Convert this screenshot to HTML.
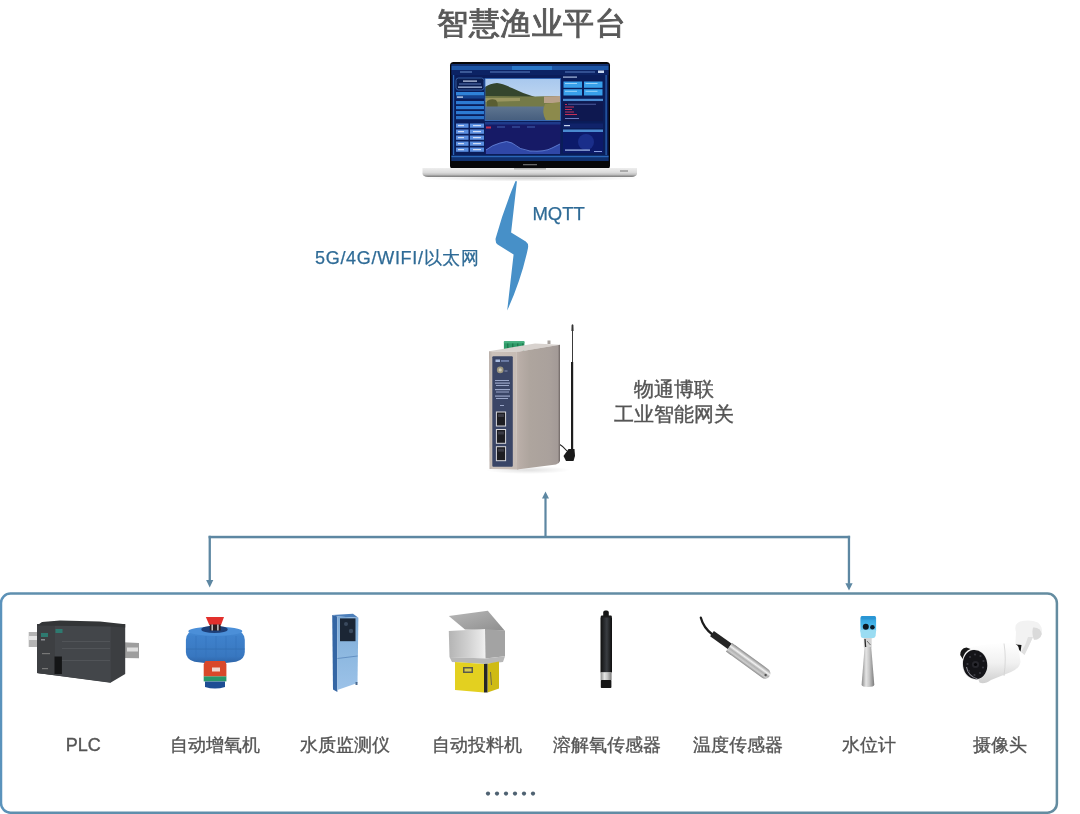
<!DOCTYPE html>
<html><head><meta charset="utf-8">
<style>
html,body{margin:0;padding:0;background:#fff;}
body{width:1080px;height:814px;position:relative;overflow:hidden;font-family:"Liberation Sans",sans-serif;}
.t{position:absolute;white-space:nowrap;line-height:1;transform:translateZ(0);}
.lab{position:absolute;top:736px;width:140px;margin-left:-70px;text-align:center;font-size:18px;line-height:1;color:#555;white-space:nowrap;-webkit-text-stroke:0.35px #555;transform:translateZ(0);}
svg{position:absolute;left:0;top:0;}
</style></head><body>
<svg width="1080" height="814" viewBox="0 0 1080 814">
  <!-- LAPTOP_START -->
  <defs>
    <linearGradient id="lbase" x1="0" y1="0" x2="0" y2="1">
      <stop offset="0" stop-color="#eeeeee"/><stop offset="0.5" stop-color="#dadada"/>
      <stop offset="0.72" stop-color="#c2c2c2"/><stop offset="0.86" stop-color="#9a9a9a"/><stop offset="1" stop-color="#7a7a7a"/>
    </linearGradient>
    <linearGradient id="lsky" x1="0" y1="0" x2="0" y2="1">
      <stop offset="0" stop-color="#a8c8ee"/><stop offset="1" stop-color="#d6e4f2"/>
    </linearGradient>
    <linearGradient id="lwater" x1="0" y1="0" x2="0" y2="1">
      <stop offset="0" stop-color="#5e7590"/><stop offset="1" stop-color="#465e7e"/>
    </linearGradient>
    <radialGradient id="lshadow" cx="0.5" cy="0.5" r="0.5">
      <stop offset="0" stop-color="#000" stop-opacity="0.18"/><stop offset="1" stop-color="#000" stop-opacity="0"/>
    </radialGradient>
  </defs>
  <ellipse cx="530" cy="178" rx="110" ry="3.5" fill="url(#lshadow)"/>
  <rect x="450" y="62" width="160" height="107" rx="3.5" fill="#070709"/>
  <rect x="451.5" y="64" width="157" height="97" fill="#0a1d5a"/>
  <!-- title bars -->
  <rect x="451.5" y="64" width="157" height="2" fill="#103070"/>
  <rect x="451.5" y="66" width="157" height="4" fill="#1c55a5"/>
  <rect x="512" y="66" width="40" height="4.5" fill="#2a78c8"/>
  <rect x="451.5" y="70" width="157" height="5" fill="#0c2364"/>
  <rect x="460" y="71.5" width="12" height="1" fill="#6d8fc8"/>
  <rect x="490" y="71.5" width="40" height="1" fill="#5a7fc0"/>
  <rect x="565" y="71.5" width="30" height="1" fill="#5a7fc0"/>
  <rect x="598" y="70.5" width="6" height="2.5" fill="#c8d8f0"/>
  <!-- frame lines -->
  <rect x="453" y="75" width="1.2" height="80" fill="#2a68b8"/>
  <rect x="605.5" y="75" width="1.2" height="80" fill="#2a68b8"/>
  <!-- left column -->
  <rect x="456" y="78" width="28" height="12" rx="2.5" fill="#0a1d50" stroke="#3a6ab0" stroke-width="0.8"/>
  <rect x="463" y="80.5" width="14" height="1.2" fill="#c8d4ec"/>
  <rect x="459" y="83.5" width="22" height="1" fill="#5a7ab8"/>
  <rect x="458" y="86.5" width="24" height="1.3" fill="#a8bce0"/>
  <rect x="456" y="92" width="28" height="3.6" fill="#2f82d8"/>
  <rect x="456" y="95.6" width="28" height="3" fill="#15418e"/>
  <rect x="457" y="96.5" width="6" height="1.2" fill="#d8e4f4"/>
  <rect x="456" y="101" width="28" height="3.2" fill="#2c7ad2"/>
  <rect x="456" y="106" width="28" height="3.2" fill="#2c7ad2"/>
  <rect x="456" y="111" width="28" height="3.2" fill="#2c7ad2"/>
  <rect x="456" y="116" width="28" height="3.2" fill="#2a72c8"/>
  <g fill="#5a8ee0">
    <rect x="456" y="123.5" width="12.5" height="4.3"/><rect x="470" y="123.5" width="14" height="4.3"/>
    <rect x="456" y="129.5" width="12.5" height="4.3"/><rect x="470" y="129.5" width="14" height="4.3"/>
    <rect x="456" y="135.5" width="12.5" height="4.3"/><rect x="470" y="135.5" width="14" height="4.3"/>
    <rect x="456" y="141.5" width="12.5" height="4.3"/><rect x="470" y="141.5" width="14" height="4.3"/>
    <rect x="456" y="147.5" width="12.5" height="4.3"/><rect x="470" y="147.5" width="14" height="4.3"/>
  </g>
  <g fill="#d0dcf4">
    <rect x="458" y="125" width="6" height="1.2"/><rect x="473" y="125" width="8" height="1.2"/>
    <rect x="458" y="131" width="6" height="1.2"/><rect x="473" y="131" width="8" height="1.2"/>
    <rect x="458" y="137" width="6" height="1.2"/><rect x="473" y="137" width="8" height="1.2"/>
    <rect x="458" y="143" width="6" height="1.2"/><rect x="473" y="143" width="8" height="1.2"/>
    <rect x="458" y="149" width="6" height="1.2"/><rect x="473" y="149" width="8" height="1.2"/>
  </g>
  <!-- photo -->
  <rect x="485" y="78.5" width="75.5" height="42" fill="url(#lsky)"/>
  <path d="M485,87 Q490,83.5 497,83 Q503,83.5 512,88 Q524,94 535,97 L560,96.5 L560,104 L485,104 Z" fill="#34452d"/>
  <path d="M485,96 L535,96.5 L560,96 L560,107 L485,107 Z" fill="#747a48"/>
  <path d="M485,98 L520,98 L520,101 L485,102 Z" fill="#9a9660"/>
  <path d="M544,96.5 L560,96 L560,103 L544,103 Z" fill="#b8a088"/>
  <path d="M487,101 Q491,98 496,100 Q499,104 497,109 L487,109 Z" fill="#5a5e32"/>
  <rect x="485" y="106.5" width="75.5" height="14" fill="url(#lwater)"/>
  <path d="M545,104 L560,102 L560,120.5 L546,120.5 Q541,112 545,104 Z" fill="#8c8a4c"/>
  <rect x="485" y="78.5" width="75.5" height="42" fill="none" stroke="#2f66b8" stroke-width="0.8"/>
  <!-- chart area -->
  <rect x="485" y="122" width="75.5" height="32" fill="#161a66"/>
  <rect x="485" y="122" width="75.5" height="2.5" fill="#1e3a8a"/>
  <rect x="486" y="126.5" width="5" height="2" fill="#c03050"/>
  <rect x="497" y="126.5" width="8" height="1" fill="#4060b0"/>
  <rect x="512" y="126.5" width="8" height="1" fill="#4060b0"/>
  <rect x="527" y="126.5" width="8" height="1" fill="#4060b0"/>
  <path d="M486,150 Q492,145 500,143 Q507,140 512,143 Q520,150 530,151 Q545,152 552,148 L560,144 L560,154 L486,154 Z" fill="#3048a8"/>
  <path d="M486,150 Q492,145 500,143 Q507,140 512,143 Q520,150 530,151 Q545,152 552,148 L560,144" fill="none" stroke="#6a8ae0" stroke-width="0.8"/>
  <!-- right column -->
  <rect x="563" y="76.5" width="14" height="1.2" fill="#a8bce0"/>
  <g fill="#38a0ea">
    <rect x="563.5" y="81.5" width="18.5" height="6.3"/><rect x="584" y="81.5" width="18.5" height="6.3"/>
    <rect x="563.5" y="89.2" width="18.5" height="6.3"/><rect x="584" y="89.2" width="18.5" height="6.3"/>
  </g>
  <g fill="#9ad4f8">
    <rect x="565" y="83" width="12" height="1"/><rect x="585.5" y="83" width="12" height="1"/>
    <rect x="565" y="90.8" width="12" height="1"/><rect x="585.5" y="90.8" width="12" height="1"/>
  </g>
  <rect x="563" y="98.8" width="40" height="2.4" fill="#4a8ad0"/>
  <rect x="563" y="101.2" width="40" height="20" fill="#0e1850"/>
  <g fill="#c03058">
    <rect x="565" y="104" width="2" height="1"/><rect x="565" y="106.5" width="9" height="1"/>
    <rect x="565" y="109" width="7" height="1"/><rect x="565" y="111.5" width="9" height="1"/>
    <rect x="565" y="114" width="12" height="1"/>
  </g>
  <rect x="568" y="103.8" width="28" height="0.8" fill="#5a6ab0"/>
  <rect x="565" y="118" width="14" height="1" fill="#6a7ac0"/>
  <rect x="563" y="123.5" width="40" height="4.5" fill="#10236a"/>
  <rect x="564" y="125" width="6" height="1.2" fill="#c8d4ec"/>
  <rect x="563" y="129.5" width="40" height="2.6" fill="#4a8ad0"/>
  <rect x="563" y="132" width="40" height="21" fill="#0c1a6a"/>
  <ellipse cx="586" cy="142" rx="8" ry="8" fill="#1a2e8a"/>
  <rect x="565" y="149.5" width="25" height="1.2" fill="#a8c0f0"/>
  <rect x="594" y="151" width="8" height="1" fill="#8aa0e0"/>
  <!-- bottom strip -->
  <rect x="451.5" y="155" width="157" height="6" fill="#10306e"/>
  <rect x="451.5" y="156" width="157" height="1.2" fill="#2a66b8"/>
  <!-- bezel logo -->
  <rect x="523" y="164" width="14" height="1.3" fill="#666"/>
  <!-- base -->
  <path d="M422.5,168 L637,168 L637,174 Q636,176.5 632,177 L428,177 Q423,176.5 422.5,174 Z" fill="url(#lbase)"/>
  <rect x="514" y="168" width="32" height="1.6" fill="#b8b8b8"/>
  <rect x="620" y="170.5" width="8" height="1" fill="#777"/>
  <!-- LAPTOP_END -->

  <!-- bolt -->
  <path d="M515.4,181.2 Q516.2,180.4 516.9,181.6 L511.1,232.4 L525.8,241.6 Q528.8,243.8 528,248 Q521.4,279.3 507.2,310.6 L513.6,254.6 L497.6,244.6 Q495.2,242.8 495.6,238.5 Q503.55,209.75 515.4,181.2 Z" fill="#4790c8"/>

  <!-- GATEWAY_START -->
  <defs>
    <linearGradient id="gside" x1="0" y1="0" x2="1" y2="0">
      <stop offset="0" stop-color="#bcb0aa"/><stop offset="0.3" stop-color="#aea59e"/><stop offset="0.75" stop-color="#aaa19c"/><stop offset="0.95" stop-color="#a39a97"/><stop offset="1" stop-color="#6e6664"/>
    </linearGradient>
    <linearGradient id="gfront" x1="0" y1="0" x2="1" y2="0">
      <stop offset="0" stop-color="#b8aea8"/><stop offset="0.12" stop-color="#cbc1ba"/><stop offset="1" stop-color="#c6bbb4"/>
    </linearGradient>
    <radialGradient id="gshadow" cx="0.5" cy="0.5" r="0.5">
      <stop offset="0" stop-color="#000" stop-opacity="0.12"/><stop offset="1" stop-color="#000" stop-opacity="0"/>
    </radialGradient>
  </defs>
  <ellipse cx="528" cy="470" rx="42" ry="4" fill="url(#gshadow)"/>
  <!-- antenna cable -->
  <path d="M559,444 Q563,446 567,451" fill="none" stroke="#222" stroke-width="1.2"/>
  <!-- antenna -->
  <rect x="572" y="330" width="1" height="33" fill="#3a3a3a"/>
  <path d="M571.6,325 Q572.5,323.5 573.4,325 L573.6,331 L571.4,331 Z" fill="#333"/>
  <rect x="571" y="362" width="2.2" height="90" fill="#1e1e1e"/>
  <path d="M568.5,449 L574.5,449 L575,456 L573.5,461 L566,461 L563.5,456 Z" fill="#1a1a1a"/>
  <!-- green connector -->
  <rect x="503.9" y="341.3" width="20.5" height="9.5" rx="0.8" fill="#2e9a68"/>
  <rect x="503.9" y="341.3" width="20.5" height="2" fill="#45b07e"/>
  <g fill="#1f7a4e"><rect x="507" y="343.5" width="1.4" height="5"/><rect x="512" y="343.5" width="1.4" height="5"/><rect x="517" y="343.5" width="1.4" height="5"/><rect x="522" y="343.5" width="1.4" height="5"/></g>
  <!-- top face -->
  <path d="M489,351.3 L516.5,352 L560,344.7 L535,343.6 Z" fill="#d8d2ce"/>
  <rect x="547.5" y="340.5" width="3" height="3.5" fill="#a8a29e"/>
  <!-- side face -->
  <path d="M516.5,352 L560,344.7 L560,461 Q559,464 556,464.5 L517,469.5 Z" fill="url(#gside)"/>
  <path d="M516.5,352 L518.5,351.7 L518.5,469.3 L517,469.5 Z" fill="#beb2ab"/>
  <!-- front face -->
  <path d="M489,351.3 L516.5,352 L517,469.5 L489.5,469 Z" fill="url(#gfront)"/>
  <rect x="492.3" y="356.2" width="20.5" height="110.5" rx="1" fill="#3a4566"/>
  <!-- logo -->
  <rect x="495.5" y="359.5" width="4.5" height="2.5" fill="#a8bce0"/>
  <rect x="501" y="360.2" width="8" height="1.5" fill="#7a8cb8"/>
  <!-- sma -->
  <circle cx="500.2" cy="369.9" r="3.3" fill="#9c9680"/>
  <circle cx="500.2" cy="369.9" r="1.6" fill="#d0ccb8"/>
  <rect x="504.5" y="370.5" width="3" height="1" fill="#8892b0"/>
  <!-- indicators -->
  <g fill="#9aa6c8">
    <rect x="495" y="380" width="14" height="1"/>
    <rect x="495" y="382.5" width="15" height="1.2"/><rect x="496" y="385" width="13" height="1"/>
    <rect x="495" y="389" width="15" height="1.2"/><rect x="496" y="391.5" width="13" height="1"/>
    <rect x="495" y="395.5" width="15" height="1.2"/><rect x="496" y="398" width="12" height="1"/>
    <rect x="500" y="405" width="4" height="1"/>
  </g>
  <!-- ethernet ports -->
  <g fill="#1d1d22" stroke="#d8d8dc" stroke-width="1">
    <rect x="496.4" y="412" width="9.2" height="14"/>
    <rect x="496.4" y="429.5" width="9.2" height="13.8"/>
    <rect x="496.4" y="446.7" width="9.2" height="14"/>
  </g>
  <g fill="#3a3a44">
    <rect x="498" y="414" width="6" height="3"/><rect x="498" y="431.5" width="6" height="3"/><rect x="498" y="448.7" width="6" height="3"/>
  </g>
<!-- GATEWAY_END -->

  <!-- arrows -->
  <g fill="#5d87a2" stroke="none">
    <rect x="544.4" y="497" width="2.2" height="41"/>
    <path d="M545.5,491.6 L549,498.5 L542,498.5 Z"/>
    <rect x="208.6" y="535.8" width="641.5" height="2.5"/>
    <rect x="208.6" y="535.8" width="2.3" height="45"/>
    <path d="M209.7,587.5 L213.3,580 L206.1,580 Z"/>
    <rect x="847.8" y="535.8" width="2.3" height="48"/>
    <path d="M849,590.5 L852.6,583.3 L845.4,583.3 Z"/>
  </g>

  <!-- box -->
  <defs><linearGradient id="boxG" gradientUnits="userSpaceOnUse" x1="0" y1="0" x2="1058" y2="0">
    <stop offset="0" stop-color="#5a93bd"/><stop offset="0.012" stop-color="#5f8fae"/><stop offset="0.5" stop-color="#628ca5"/><stop offset="1" stop-color="#648ca0"/></linearGradient></defs>
  <rect x="1.0" y="593.5" width="1055.9" height="219.2" rx="9.5" fill="none" stroke="url(#boxG)" stroke-width="2.5"/>

  <!-- PRODUCTS_START -->
  <defs>
    <linearGradient id="silverH" x1="0" y1="0" x2="1" y2="0">
      <stop offset="0" stop-color="#8a8a8a"/><stop offset="0.35" stop-color="#e4e4e4"/><stop offset="0.6" stop-color="#c8c8c8"/><stop offset="1" stop-color="#7a7a7a"/>
    </linearGradient>
    <linearGradient id="silverV" x1="0" y1="0" x2="0" y2="1">
      <stop offset="0" stop-color="#909090"/><stop offset="0.3" stop-color="#e6e6e6"/><stop offset="0.6" stop-color="#bdbdbd"/><stop offset="1" stop-color="#7c7c7c"/>
    </linearGradient>
    <linearGradient id="blackH" x1="0" y1="0" x2="1" y2="0">
      <stop offset="0" stop-color="#101010"/><stop offset="0.35" stop-color="#2a2c30"/><stop offset="0.55" stop-color="#3a3d42"/><stop offset="1" stop-color="#0e0e0e"/>
    </linearGradient>
    <linearGradient id="floatG" x1="0" y1="0" x2="0" y2="1">
      <stop offset="0" stop-color="#4d93dc"/><stop offset="0.25" stop-color="#3f82cc"/><stop offset="0.8" stop-color="#3877c0"/><stop offset="1" stop-color="#2d63a6"/>
    </linearGradient>
    <linearGradient id="cabF" x1="0" y1="0" x2="0" y2="1">
      <stop offset="0" stop-color="#7eaad6"/><stop offset="0.5" stop-color="#8db8e0"/><stop offset="1" stop-color="#9cc2e8"/>
    </linearGradient>
    <linearGradient id="hopF" x1="0" y1="0" x2="1" y2="0">
      <stop offset="0" stop-color="#b4b4b4"/><stop offset="0.5" stop-color="#cfcfcf"/><stop offset="0.9" stop-color="#e8e8e8"/><stop offset="1" stop-color="#f2f2f2"/>
    </linearGradient>
    <linearGradient id="lidG" x1="0" y1="0" x2="1" y2="1">
      <stop offset="0" stop-color="#b8b8b8"/><stop offset="1" stop-color="#8e8e8e"/>
    </linearGradient>
    <linearGradient id="headG" x1="0" y1="0" x2="0" y2="1">
      <stop offset="0" stop-color="#2f9ad8"/><stop offset="0.5" stop-color="#45b6ea"/><stop offset="1" stop-color="#8ed6f4"/>
    </linearGradient>
    <linearGradient id="camB" x1="0" y1="0" x2="0" y2="1">
      <stop offset="0" stop-color="#ffffff"/><stop offset="0.5" stop-color="#f1f1f1"/><stop offset="1" stop-color="#cfcfcf"/>
    </linearGradient>
  </defs>

  <!-- PLC -->
  <g>
    <path d="M28.7,632 L37.5,632 L37.5,647 L28.7,647 Z" fill="#b4b4b4"/>
    <rect x="29" y="636" width="8" height="4" fill="#e6e6e6"/>
    <path d="M123,642.2 L139,643 L139,658.3 L123,658 Z" fill="#9e9e9e"/>
    <rect x="127" y="647.5" width="11" height="4" fill="#dedede"/>
    
    <path d="M37,624 L125.2,624 L125.2,674 L110.4,682.7 L37,673 Z" fill="#3c3e41"/>
    <path d="M37,625 L110.8,625.8 L110.8,682.5 L37,673 Z" fill="#43464a"/>
    
    <path d="M37,625 L55,625.3 L55,675 L37,673 Z" fill="#3d3f42"/>
    <path d="M37,625.6 L42,622 L60,620.5 L100,621.5 L125.2,624.2 L125.2,627.6 L110.8,626.4 Z" fill="#333537"/>
    <rect x="41" y="633" width="7" height="4" fill="#2e7a70"/>
    <rect x="55.5" y="629" width="7" height="4" fill="#2e7a70"/>
    <rect x="41" y="639" width="4" height="1.5" fill="#8a8c90"/>
    <rect x="54.5" y="656.5" width="7.4" height="17.5" fill="#141516"/>
    <g fill="#55585c"><rect x="62" y="641" width="48" height="0.8"/><rect x="62" y="648" width="48" height="0.8"/><rect x="62" y="660" width="48" height="0.8"/></g>
    <rect x="42" y="653" width="8" height="1.2" fill="#777"/><rect x="42" y="668" width="6" height="1.2" fill="#777"/>
  </g>

  <!-- aerator -->
  <g>
    <path d="M185.9,640 Q185.9,631.5 196,629.2 Q215,625.2 234.5,629.2 Q244.8,631.5 244.8,640 L244.8,652 Q244.8,659.5 236,661.8 Q215,665.2 194.5,661.8 Q185.9,659.5 185.9,652 Z" fill="url(#floatG)"/>
    <ellipse cx="215.3" cy="631.3" rx="27" ry="4.6" fill="#4b8fd8"/>
    <ellipse cx="214.5" cy="629.4" rx="13.2" ry="3.6" fill="#1d3f78"/>
    <g stroke="#3474bc" stroke-width="0.7"><line x1="196" y1="636" x2="196" y2="660"/><line x1="206" y1="636" x2="206" y2="662"/><line x1="216" y1="636" x2="216" y2="662"/><line x1="226" y1="636" x2="226" y2="662"/><line x1="236" y1="636" x2="236" y2="660"/></g>
    <line x1="186" y1="649" x2="244.6" y2="649" stroke="#336fb2" stroke-width="0.8"/>
    <path d="M205.8,616.9 L224,616.9 L221,625 L209.3,625 Z" fill="#e2302c"/>
    <rect x="209.8" y="624.5" width="10.8" height="6" fill="#2a1e22"/>
    <rect x="211.5" y="624.5" width="1.4" height="6" fill="#d0d0d0"/><rect x="217.2" y="624.5" width="1.4" height="6" fill="#d0d0d0"/>
    <path d="M205.5,661 L225,661 L226.4,664 L226.4,676.5 L203.7,676.5 L203.7,664 Z" fill="#d9482a"/>
    <rect x="212" y="667.5" width="8" height="4" fill="#f0d8d0"/>
    <rect x="203.7" y="676.4" width="22.7" height="5" fill="#27976a"/>
    <path d="M205,681.4 L225,681.4 L225,687 Q215,690 205,687 Z" fill="#1d4d94"/>
  </g>

  <!-- water quality cabinet -->
  <g>
    <path d="M332.2,614.9 L353,613.8 L358.4,617.8 L337.4,616.6 Z" fill="#4d7fba"/>
    <path d="M332.2,614.9 L337.4,616.6 L337.4,692 L333,689.5 Z" fill="#3566a4"/>
    <path d="M337.4,616.6 L358.4,617.8 L357.5,683 L337.4,690 Z" fill="url(#cabF)"/>
    <rect x="340" y="618.4" width="15.5" height="22.8" fill="#1b2635"/>
    <circle cx="346" cy="624" r="2" fill="#3a4a5e"/><circle cx="351" cy="631" r="2.2" fill="#3a4a5e"/>
    <path d="M337.4,658.5 L357.6,656" stroke="#5f8cc0" stroke-width="0.9"/>
    <rect x="355.5" y="682" width="2" height="3" fill="#4a6a90"/>
  </g>

  <!-- feeder -->
  <g>
    <path d="M448.8,616 L487.8,610.8 L504.8,630.7 L465,629.5 Z" fill="url(#lidG)"/>
    <path d="M448.8,631 L485,629 L485.5,658.5 L449.5,657 Z" fill="url(#hopF)"/>
    <path d="M485,629 L505,630.7 L505,656.3 L485.5,658.5 Z" fill="#a3a3a3"/>
    <path d="M449.5,657 L485.5,658.5 L505,656.3 L503,662 L485.5,664 L452,662 Z" fill="#b7b7b7"/>
    <path d="M455,662 L484,664 L484,692.5 L455,690 Z" fill="#e3d020"/>
    <path d="M487.5,663.7 L499,661.5 L499,688.5 L487.5,692.5 Z" fill="#cfbb14"/>
    <path d="M484,664 L487.5,663.7 L487.5,692.5 L484,692.5 Z" fill="#262626"/>
    <rect x="463" y="667" width="10" height="6" fill="#5a5a4a"/>
    <rect x="464.5" y="668.5" width="7" height="3" fill="#d8cc50"/>
    <path d="M490.5,672 L491.5,685" stroke="#555" stroke-width="0.8"/>
  </g>

  <!-- DO sensor -->
  <g>
    <rect x="603.2" y="610.5" width="5.6" height="7" rx="2" fill="#141414"/>
    <rect x="600.8" y="615.5" width="11" height="3" rx="1" fill="#1a1a1a"/>
    <rect x="600.5" y="617.5" width="11.5" height="55" fill="url(#blackH)"/>
    <rect x="600.6" y="672.4" width="11" height="7.8" fill="url(#silverH)"/>
    <rect x="600.8" y="680" width="10.6" height="8" rx="0.8" fill="#161616"/>
  </g>

  <!-- temperature sensor -->
  <defs>
    <linearGradient id="tsG" x1="0" y1="0" x2="0" y2="1">
      <stop offset="0" stop-color="#8c8c8c"/><stop offset="0.15" stop-color="#b4b4b4"/><stop offset="0.35" stop-color="#f2f2f2"/>
      <stop offset="0.55" stop-color="#b0b0b0"/><stop offset="0.78" stop-color="#cdcdcd"/><stop offset="1" stop-color="#8a8a8a"/>
    </linearGradient>
  </defs>
  <g>
    <path d="M700.8,617.6 Q703.5,628 713,635" fill="none" stroke="#1c1c1c" stroke-width="2.2" stroke-linecap="round"/>
    <path d="M712,633.6 L730,646.5" fill="none" stroke="#242424" stroke-width="6.5"/>
    <g transform="translate(729,647.2) rotate(36)">
      <rect x="0" y="-5.3" width="50" height="10.6" rx="5.3" fill="url(#tsG)"/>
      <rect x="0" y="-5.3" width="6" height="10.6" fill="url(#tsG)"/>
      <circle cx="46" cy="1" r="1.2" fill="#555"/>
    </g>
  </g>
  <!-- level meter -->
  <g>
    <rect x="860.4" y="616" width="15.7" height="17" rx="2" fill="url(#headG)"/>
    <path d="M860.4,630 L876.1,630 L875.6,636 Q875,638.2 872,638.2 L864.5,638.2 Q861,638.2 860.8,636 Z" fill="#9adcf2"/>
    <rect x="861" y="616" width="14.5" height="3.5" rx="1.5" fill="#2a96d4"/>
    <circle cx="865.8" cy="626.8" r="3" fill="#0c1822"/>
    <circle cx="872.4" cy="627.2" r="2.3" fill="#0c1e2c"/>
    <rect x="863.8" y="638" width="7.9" height="9.5" fill="#d4d4d4"/>
    <path d="M865,639 L865.6,647" stroke="#2a2a2a" stroke-width="1.3"/>
    <path d="M867,641 L870.5,645" stroke="#555" stroke-width="0.8"/>
    <path d="M864.6,647 L871.2,647 L874.3,684.8 Q874,687 868,687 Q861.8,687 861.6,684.8 Z" fill="url(#silverH)"/>
  </g>

  <!-- camera -->
  <g>
    <path d="M1016,632 Q1013.5,624 1020,621.5 Q1030,619 1038,622.5 Q1043,627 1041.8,634 Q1040,640 1034,639.8 L1033,637 Q1029,646 1024.5,655 L1015.3,645 Z" fill="#f2f2f2"/>
    <path d="M1033,637 Q1029,646 1024.5,655 L1021,652 Q1026,645 1028,637 Z" fill="#e0e0e0"/>
    <path d="M1033,627.5 Q1040.5,627 1041.8,634 Q1040,640 1034,639.8 Q1031.5,634 1033,627.5 Z" fill="#dadada"/>
    <path d="M1015.3,644.3 L1021.5,645 L1020.5,651.8 Z" fill="#161616"/>
    <path d="M966,648.5 Q985,643.5 1008,642.5 Q1016,642.5 1018.5,647 L1020.5,662 Q1019.5,668.5 1011,672 L991,680 Q984,685 979.5,682.5 Z" fill="url(#camB)"/>
    <path d="M1004,643.5 Q1006.5,658 1004,676" stroke="#d2d2d2" stroke-width="0.8" fill="none"/>
    <path d="M960.2,655 Q960,648.5 966.5,647.5 L970.5,649 Q964,651.5 962.8,659 Z" fill="#181818"/>
    <ellipse cx="975.1" cy="664.6" rx="12.8" ry="15.2" transform="rotate(-8 975.1 664.6)" fill="#e4e4e4"/>
    <ellipse cx="975.1" cy="664.6" rx="12.1" ry="14.7" transform="rotate(-8 975.1 664.6)" fill="#141418"/>
    <path d="M966.5,667 Q968,676 977.5,679" stroke="#8a8a92" stroke-width="1.1" fill="none"/>
    <g fill="#3a3a42">
      <circle cx="970" cy="657" r="1.1"/><circle cx="975" cy="654.5" r="1.1"/><circle cx="980.5" cy="656" r="1.1"/>
      <circle cx="983.5" cy="661" r="1.1"/><circle cx="983" cy="667.5" r="1.1"/><circle cx="980" cy="673" r="1.1"/>
      <circle cx="974.5" cy="675" r="1.1"/><circle cx="969" cy="671" r="1.1"/><circle cx="967.5" cy="664" r="1.1"/>
    </g>
    <circle cx="975.5" cy="664.5" r="3.6" fill="#26262c"/>
    <circle cx="975.5" cy="664.5" r="1.6" fill="#060608"/>
  </g>
<!-- PRODUCTS_END -->

  <!-- dots -->
  <g fill="#4f6272">
    <circle cx="488" cy="793.6" r="2.1"/><circle cx="497" cy="793.6" r="2.1"/><circle cx="506" cy="793.6" r="2.1"/>
    <circle cx="515" cy="793.6" r="2.1"/><circle cx="524" cy="793.6" r="2.1"/><circle cx="533" cy="793.6" r="2.1"/>
  </g>
</svg>

<div class="t" style="left:437.3px;top:8px;font-size:31.4px;letter-spacing:0.5px;color:#595959;-webkit-text-stroke:0.9px #595959;">智慧渔业平台</div>
<div class="t" style="left:532.4px;top:205px;font-size:18.5px;color:#2f6b96;-webkit-text-stroke:0.25px #2f6b96;">MQTT</div>
<div class="t" style="left:315px;top:249px;font-size:18px;color:#2f6b96;letter-spacing:0.7px;-webkit-text-stroke:0.25px #2f6b96;">5G/4G/WIFI/以太网</div>
<div class="t" style="left:573.5px;top:379px;width:200px;text-align:center;font-size:20px;color:#555;-webkit-text-stroke:0.4px #555;">物通博联</div>
<div class="t" style="left:573.5px;top:403.5px;width:200px;text-align:center;font-size:20px;color:#555;-webkit-text-stroke:0.4px #555;">工业智能网关</div>

<div class="lab" style="left:83.3px">PLC</div>
<div class="lab" style="left:215px">自动增氧机</div>
<div class="lab" style="left:345px">水质监测仪</div>
<div class="lab" style="left:476.7px">自动投料机</div>
<div class="lab" style="left:607.2px">溶解氧传感器</div>
<div class="lab" style="left:737.8px">温度传感器</div>
<div class="lab" style="left:869.2px">水位计</div>
<div class="lab" style="left:1000px">摄像头</div>
</body></html>
